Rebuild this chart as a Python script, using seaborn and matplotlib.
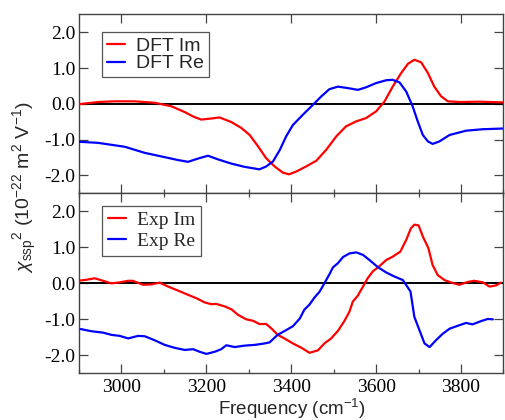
import numpy as np
import pandas as pd
import matplotlib
matplotlib.use("Agg")
import matplotlib.pyplot as plt
from matplotlib.ticker import MultipleLocator
import seaborn as sns

# --- DFT spectra (upper panel) ---
dft_im_freq = [2900, 2945, 2984, 3031, 3078, 3118, 3149, 3170, 3188, 3212, 3231, 3259,
               3282, 3302, 3322, 3341, 3361, 3380, 3395, 3412, 3435, 3459, 3482, 3506,
               3529, 3553, 3576, 3600, 3620, 3639, 3659, 3675, 3690, 3706, 3722, 3737,
               3753, 3769, 3796, 3843, 3898]
dft_im_val = [-0.01, 0.05, 0.07, 0.07, 0.03, -0.07, -0.23, -0.36, -0.44, -0.41, -0.38, -0.51,
              -0.67, -0.87, -1.19, -1.52, -1.75, -1.92, -1.97, -1.89, -1.75, -1.59, -1.29, -0.91,
              -0.63, -0.49, -0.40, -0.21, 0.07, 0.48, 0.86, 1.12, 1.23, 1.16, 0.86, 0.48,
              0.21, 0.07, 0.05, 0.06, 0.04]

dft_re_freq = [2900, 2945, 3008, 3055, 3102, 3133, 3157, 3180, 3204, 3227, 3259, 3290,
               3325, 3341, 3357, 3373, 3388, 3404, 3427, 3451, 3471, 3490, 3510, 3533,
               3557, 3576, 3600, 3624, 3639, 3655, 3671, 3686, 3698, 3710, 3722, 3733,
               3749, 3773, 3812, 3851, 3898]
dft_re_val = [-1.06, -1.09, -1.20, -1.37, -1.49, -1.57, -1.62, -1.53, -1.45, -1.55, -1.67, -1.76,
              -1.83, -1.75, -1.61, -1.29, -0.91, -0.59, -0.31, -0.03, 0.21, 0.41, 0.48, 0.44,
              0.39, 0.46, 0.58, 0.66, 0.67, 0.60, 0.34, -0.07, -0.49, -0.87, -1.05, -1.12,
              -1.05, -0.87, -0.75, -0.71, -0.69]

# --- Experimental spectra (lower panel) ---
exp_im_freq = [2904, 2918, 2937, 2957, 2976, 2992, 3016, 3027, 3051, 3071, 3090, 3110,
               3133, 3157, 3176, 3196, 3212, 3223, 3243, 3259, 3274, 3294, 3310, 3325,
               3341, 3353, 3368, 3384, 3404, 3424, 3443, 3463, 3478, 3494, 3510, 3525,
               3537, 3545, 3557, 3569, 3580, 3592, 3608, 3624, 3639, 3657, 3671, 3682,
               3690, 3700, 3710, 3723, 3733, 3745, 3761, 3780, 3796, 3816, 3831, 3851,
               3867, 3882, 3894]
exp_im_val = [0.08, 0.10, 0.14, 0.07, 0.00, 0.02, 0.07, 0.07, -0.04, -0.03, 0.02, -0.09,
              -0.20, -0.32, -0.41, -0.53, -0.58, -0.57, -0.64, -0.72, -0.87, -1.00, -1.04, -1.13,
              -1.13, -1.25, -1.43, -1.53, -1.67, -1.79, -1.93, -1.86, -1.67, -1.53, -1.32, -1.05,
              -0.79, -0.51, -0.34, -0.09, 0.14, 0.33, 0.48, 0.65, 0.74, 0.88, 1.21, 1.53,
              1.63, 1.61, 1.30, 0.98, 0.51, 0.23, 0.09, 0.01, -0.04, 0.04, 0.07, 0.03,
              -0.09, -0.06, 0.02]

exp_re_freq = [2904, 2929, 2957, 2976, 2996, 3016, 3039, 3055, 3078, 3102, 3125, 3149,
               3169, 3184, 3200, 3220, 3235, 3247, 3267, 3290, 3314, 3337, 3349, 3368,
               3388, 3404, 3420, 3431, 3443, 3455, 3467, 3478, 3490, 3498, 3510, 3522,
               3537, 3553, 3569, 3584, 3604, 3624, 3643, 3663, 3671, 3681, 3690, 3702,
               3714, 3726, 3741, 3757, 3773, 3792, 3812, 3827, 3847, 3863, 3875]
exp_re_val = [-1.27, -1.33, -1.37, -1.43, -1.46, -1.53, -1.46, -1.47, -1.58, -1.71, -1.79, -1.85,
              -1.83, -1.90, -1.96, -1.90, -1.83, -1.72, -1.77, -1.73, -1.71, -1.67, -1.64, -1.43,
              -1.30, -1.19, -0.98, -0.73, -0.59, -0.39, -0.23, 0.00, 0.25, 0.44, 0.56, 0.73,
              0.83, 0.86, 0.79, 0.65, 0.45, 0.30, 0.19, 0.09, -0.05, -0.23, -0.93, -1.30,
              -1.67, -1.77, -1.58, -1.40, -1.26, -1.18, -1.10, -1.14, -1.05, -0.99, -1.00]

x_ticks = [3000, 3200, 3400, 3600, 3800]
y_ticks = [-2.0, -1.0, 0.0, 1.0, 2.0]

sns.set_style("ticks")
plt.rcParams.update({
    "font.family": ["Liberation Serif", "DejaVu Serif"],
    "mathtext.fontset": "custom",
    "mathtext.rm": "Liberation Sans",
    "mathtext.it": "Liberation Sans:italic",
    "mathtext.sf": "Liberation Sans",
    "axes.edgecolor": "#444444",
    "axes.linewidth": 1.0,
    "xtick.color": "#444444",
    "ytick.color": "#444444",
    "xtick.labelcolor": "black",
    "ytick.labelcolor": "black",
})

fig = plt.figure(figsize=(5.05, 4.2), dpi=100)
ax_top = fig.add_axes([0.1564, 0.5397, 0.8406, 0.4262])
ax_bot = fig.add_axes([0.1564, 0.1111, 0.8406, 0.4286])

RED = "#ff0000"
BLUE = "#0000ff"
LW = 1.6

top_im = pd.DataFrame({"freq": dft_im_freq, "chi": dft_im_val})
top_re = pd.DataFrame({"freq": dft_re_freq, "chi": dft_re_val})
bot_im = pd.DataFrame({"freq": exp_im_freq, "chi": exp_im_val})
bot_re = pd.DataFrame({"freq": exp_re_freq, "chi": exp_re_val})

for ax in (ax_top, ax_bot):
    ax.axhline(0.0, color="black", lw=1.4, zorder=1)

sns.lineplot(data=top_im, x="freq", y="chi", ax=ax_top, color=RED, lw=LW, label="DFT Im", zorder=3)
sns.lineplot(data=top_re, x="freq", y="chi", ax=ax_top, color=BLUE, lw=LW, label="DFT Re", zorder=3)
sns.lineplot(data=bot_im, x="freq", y="chi", ax=ax_bot, color=RED, lw=LW, label="Exp Im", zorder=3)
sns.lineplot(data=bot_re, x="freq", y="chi", ax=ax_bot, color=BLUE, lw=LW, label="Exp Re", zorder=3)

for ax in (ax_top, ax_bot):
    ax.set_xlim(2900, 3900)
    ax.set_ylim(-2.5, 2.5)
    ax.set_xticks(x_ticks)
    ax.xaxis.set_minor_locator(MultipleLocator(100))
    ax.set_yticks(y_ticks)
    ax.set_yticklabels([f"{v:.1f}" for v in y_ticks])
    ax.set_xlabel("")
    ax.set_ylabel("")
    for s in ax.spines.values():
        s.set_visible(True)
    ax.tick_params(which="major", direction="in", length=6.2, width=0.9,
                   top=True, right=True, labelsize=14, pad=2.5)
    ax.tick_params(which="minor", direction="in", length=3.2, width=0.9,
                   top=True, bottom=True)
    ax.tick_params(axis="x", which="major", pad=4)

ax_top.tick_params(axis="x", which="major", labelbottom=False)
ax_top.tick_params(axis="x", which="minor", top=False)

leg_top = ax_top.legend(loc="upper left", bbox_to_anchor=(0.054, 0.9), borderaxespad=0,
                        frameon=True, fancybox=False, handlelength=0.95, handletextpad=0.55,
                        labelspacing=0.0, borderpad=0.25,
                        prop={"family": "Liberation Sans", "size": 14})
leg_bot = ax_bot.legend(loc="upper left", bbox_to_anchor=(0.054, 0.931), borderaxespad=0,
                        frameon=True, fancybox=False, handlelength=0.95, handletextpad=0.55,
                        labelspacing=0.15, borderpad=0.3,
                        prop={"family": "Liberation Serif", "size": 14})
for leg in (leg_top, leg_bot):
    fr = leg.get_frame()
    fr.set_edgecolor("#555555")
    fr.set_linewidth(0.9)
    fr.set_alpha(1.0)
    for h in leg.legend_handles:
        h.set_linewidth(LW)

fig.text(0.05, 0.553, r"$\chi_{\mathrm{ssp}}{}^{2}$ (10$^{-22}$ m$^{2}$ V$^{-1}$)",
         rotation=90, ha="center", va="center", fontsize=14, family="Liberation Sans")
fig.text(0.578, 0.011, r"Frequency (cm$^{-1}$)", ha="center", va="baseline",
         fontsize=13.5, family="Liberation Sans")

fig.savefig("out.png", dpi=100)
